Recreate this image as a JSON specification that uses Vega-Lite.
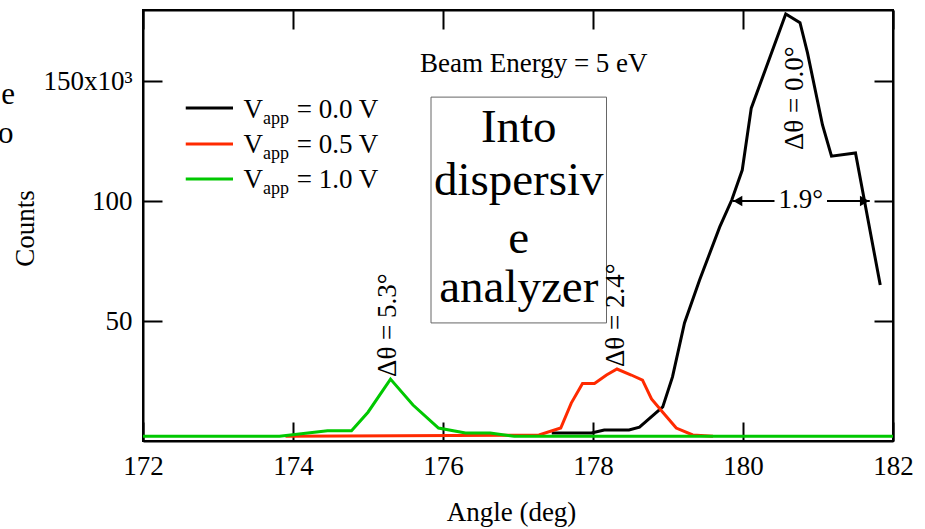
{
  "$schema": "https://vega.github.io/schema/vega-lite/v6.json",
  "width": 750,
  "height": 431,
  "autosize": "none",
  "padding": {"left": 143, "top": 10, "right": 32, "bottom": 88},
  "background": "white",
  "config": {
    "view": {"stroke": "black", "strokeWidth": 2},
    "font": "Liberation Serif",
    "axis": {
      "grid": false,
      "domainColor": "black",
      "domainWidth": 2,
      "tickColor": "black",
      "tickWidth": 2,
      "tickSize": -19,
      "labelFont": "Liberation Serif",
      "labelFontSize": 27,
      "labelColor": "black",
      "labelFlush": false,
      "labelOverlap": false,
      "titleFont": "Liberation Serif",
      "titleFontSize": 27,
      "titleFontWeight": "normal",
      "titleColor": "black"
    },
    "text": {"font": "Liberation Serif", "fontSize": 27, "color": "black"}
  },
  "datasets": {
    "series": [
      {"angle": 177.45, "counts": 3300, "s": "0.0"},
      {"angle": 177.98, "counts": 3300, "s": "0.0"},
      {"angle": 178.15, "counts": 4600, "s": "0.0"},
      {"angle": 178.48, "counts": 4600, "s": "0.0"},
      {"angle": 178.62, "counts": 5800, "s": "0.0"},
      {"angle": 178.93, "counts": 14200, "s": "0.0"},
      {"angle": 179.06, "counts": 26700, "s": "0.0"},
      {"angle": 179.22, "counts": 49200, "s": "0.0"},
      {"angle": 179.42, "counts": 67000, "s": "0.0"},
      {"angle": 179.69, "counts": 89200, "s": "0.0"},
      {"angle": 179.85, "counts": 100400, "s": "0.0"},
      {"angle": 179.99, "counts": 112900, "s": "0.0"},
      {"angle": 180.11, "counts": 138700, "s": "0.0"},
      {"angle": 180.57, "counts": 177900, "s": "0.0"},
      {"angle": 180.76, "counts": 174300, "s": "0.0"},
      {"angle": 180.86, "counts": 161700, "s": "0.0"},
      {"angle": 181.06, "counts": 131700, "s": "0.0"},
      {"angle": 181.18, "counts": 118700, "s": "0.0"},
      {"angle": 181.5, "counts": 120000, "s": "0.0"},
      {"angle": 181.83, "counts": 65000, "s": "0.0"},
      {"angle": 173.9, "counts": 2000, "s": "0.5"},
      {"angle": 177.28, "counts": 2500, "s": "0.5"},
      {"angle": 177.57, "counts": 5400, "s": "0.5"},
      {"angle": 177.71, "counts": 15800, "s": "0.5"},
      {"angle": 177.86, "counts": 24000, "s": "0.5"},
      {"angle": 178.02, "counts": 24000, "s": "0.5"},
      {"angle": 178.18, "counts": 27500, "s": "0.5"},
      {"angle": 178.32, "counts": 30000, "s": "0.5"},
      {"angle": 178.51, "counts": 27500, "s": "0.5"},
      {"angle": 178.66, "counts": 25400, "s": "0.5"},
      {"angle": 178.78, "counts": 17500, "s": "0.5"},
      {"angle": 178.93, "counts": 12000, "s": "0.5"},
      {"angle": 179.11, "counts": 5400, "s": "0.5"},
      {"angle": 179.33, "counts": 2500, "s": "0.5"},
      {"angle": 179.6, "counts": 2000, "s": "0.5"},
      {"angle": 172.0, "counts": 2000, "s": "1.0"},
      {"angle": 173.82, "counts": 2000, "s": "1.0"},
      {"angle": 174.46, "counts": 4300, "s": "1.0"},
      {"angle": 174.78, "counts": 4300, "s": "1.0"},
      {"angle": 175.0, "counts": 12000, "s": "1.0"},
      {"angle": 175.3, "counts": 25800, "s": "1.0"},
      {"angle": 175.6, "counts": 15000, "s": "1.0"},
      {"angle": 175.94, "counts": 5400, "s": "1.0"},
      {"angle": 176.3, "counts": 3300, "s": "1.0"},
      {"angle": 176.63, "counts": 3300, "s": "1.0"},
      {"angle": 176.95, "counts": 2000, "s": "1.0"},
      {"angle": 182.0, "counts": 2000, "s": "1.0"}
    ],
    "legendLines": [
      {"x": 172.57, "x2": 173.2, "y": 138750, "s": "0.0"},
      {"x": 172.57, "x2": 173.2, "y": 123750, "s": "0.5"},
      {"x": 172.57, "x2": 173.2, "y": 109167, "s": "1.0"}
    ],
    "legendText": [
      {"x": 173.34, "y": 134583, "t": "V", "size": 27},
      {"x": 173.6, "y": 132083, "t": "app", "size": 18},
      {"x": 174.05, "y": 134583, "t": "= 0.0 V", "size": 27},
      {"x": 173.34, "y": 120000, "t": "V", "size": 27},
      {"x": 173.6, "y": 117500, "t": "app", "size": 18},
      {"x": 174.05, "y": 120000, "t": "= 0.5 V", "size": 27},
      {"x": 173.34, "y": 105417, "t": "V", "size": 27},
      {"x": 173.6, "y": 102917, "t": "app", "size": 18},
      {"x": 174.05, "y": 105417, "t": "= 1.0 V", "size": 27}
    ],
    "widthLabels": [
      {"x": 180.69, "y": 121250, "t": "Δθ = 0.0°"},
      {"x": 178.31, "y": 30800, "t": "Δθ = 2.4°"},
      {"x": 175.26, "y": 26700, "t": "Δθ = 5.3°"}
    ],
    "boxText": [
      {"x": 177.01, "y": 124600, "t": "Into"},
      {"x": 177.01, "y": 102500, "t": "dispersiv"},
      {"x": 177.01, "y": 78300, "t": "e"},
      {"x": 177.01, "y": 57900, "t": "analyzer"}
    ],
    "notes": [
      {"x": 177.21, "y": 153750, "t": "Beam Energy = 5 eV", "align": "center", "size": 27},
      {"x": 180.77, "y": 97083, "t": "1.9°", "align": "center", "size": 27},
      {"x": 170.2, "y": 140400, "t": "e", "align": "right", "size": 31},
      {"x": 170.17, "y": 124000, "t": "o", "align": "right", "size": 31}
    ],
    "arrowShafts": [
      {"x": 179.86, "x2": 180.42, "y": 100000},
      {"x": 181.12, "x2": 181.69, "y": 100000}
    ],
    "arrowHeads": [
      {"x": 179.93, "y": 100000, "shape": "triangle-left"},
      {"x": 181.62, "y": 100000, "shape": "triangle-right"}
    ],
    "box": [
      {"x": 175.84, "x2": 178.18, "y": 49200, "y2": 143300}
    ]
  },
  "layer": [
    {
      "data": {"name": "box"},
      "mark": {"type": "rect", "fillOpacity": 0, "stroke": "#666666", "strokeWidth": 1},
      "encoding": {
        "x": {"field": "x", "type": "quantitative",
              "scale": {"domain": [172, 182], "nice": false, "zero": false},
              "axis": {"orient": "top", "values": [172, 174, 176, 178, 180, 182], "labels": false, "title": null}},
        "x2": {"field": "x2"},
        "y": {"field": "y", "type": "quantitative",
              "scale": {"domain": [0, 179600], "nice": false, "zero": false},
              "axis": {"orient": "right", "values": [50000, 100000, 150000], "labels": false, "title": null}},
        "y2": {"field": "y2"}
      }
    },
    {
      "data": {"name": "series"},
      "mark": {"type": "line", "strokeWidth": 3, "strokeJoin": "miter"},
      "encoding": {
        "x": {"field": "angle", "type": "quantitative",
              "scale": {"domain": [172, 182], "nice": false, "zero": false},
              "axis": {"orient": "bottom", "values": [172, 174, 176, 178, 180, 182], "format": "d",
                       "labelPadding": 31, "title": "Angle (deg)",
                       "titleX": 368, "titleY": 79, "titleBaseline": "alphabetic", "titleAlign": "center"}},
        "y": {"field": "counts", "type": "quantitative",
              "scale": {"domain": [0, 179600], "nice": false, "zero": false},
              "axis": {"orient": "left", "values": [50000, 100000, 150000],
                       "labelExpr": "datum.value == 150000 ? '150x10³' : format(datum.value / 1000, 'd')",
                       "labelPadding": 30, "title": "Counts",
                       "titleX": -118, "titleY": 218, "titleAngle": 270,
                       "titleAlign": "center", "titleBaseline": "middle"}},
        "color": {"field": "s", "type": "nominal",
                  "scale": {"domain": ["0.0", "0.5", "1.0"], "range": ["#000000", "#ff2a00", "#00c800"]},
                  "legend": null},
        "order": {"field": "angle", "type": "quantitative"}
      }
    },
    {
      "data": {"name": "legendLines"},
      "mark": {"type": "rule", "strokeWidth": 3},
      "encoding": {
        "x": {"field": "x", "type": "quantitative", "scale": {"domain": [172, 182], "nice": false, "zero": false}, "axis": null},
        "x2": {"field": "x2"},
        "y": {"field": "y", "type": "quantitative", "scale": {"domain": [0, 179600], "nice": false, "zero": false}, "axis": null},
        "color": {"field": "s", "type": "nominal",
                  "scale": {"domain": ["0.0", "0.5", "1.0"], "range": ["#000000", "#ff2a00", "#00c800"]},
                  "legend": null}
      }
    },
    {
      "data": {"name": "legendText"},
      "mark": {"type": "text", "align": "left", "baseline": "alphabetic"},
      "encoding": {
        "x": {"field": "x", "type": "quantitative", "scale": {"domain": [172, 182], "nice": false, "zero": false}, "axis": null},
        "y": {"field": "y", "type": "quantitative", "scale": {"domain": [0, 179600], "nice": false, "zero": false}, "axis": null},
        "text": {"field": "t"},
        "size": {"field": "size", "type": "quantitative", "scale": null}
      }
    },
    {
      "data": {"name": "widthLabels"},
      "mark": {"type": "text", "angle": 270, "align": "left", "baseline": "middle"},
      "encoding": {
        "x": {"field": "x", "type": "quantitative", "scale": {"domain": [172, 182], "nice": false, "zero": false}, "axis": null},
        "y": {"field": "y", "type": "quantitative", "scale": {"domain": [0, 179600], "nice": false, "zero": false}, "axis": null},
        "text": {"field": "t"}
      }
    },
    {
      "data": {"name": "boxText"},
      "mark": {"type": "text", "align": "center", "baseline": "alphabetic", "fontSize": 47},
      "encoding": {
        "x": {"field": "x", "type": "quantitative", "scale": {"domain": [172, 182], "nice": false, "zero": false}, "axis": null},
        "y": {"field": "y", "type": "quantitative", "scale": {"domain": [0, 179600], "nice": false, "zero": false}, "axis": null},
        "text": {"field": "t"}
      }
    },
    {
      "data": {"name": "notes"},
      "mark": {"type": "text", "baseline": "alphabetic"},
      "encoding": {
        "x": {"field": "x", "type": "quantitative", "scale": {"domain": [172, 182], "nice": false, "zero": false}, "axis": null},
        "y": {"field": "y", "type": "quantitative", "scale": {"domain": [0, 179600], "nice": false, "zero": false}, "axis": null},
        "text": {"field": "t"},
        "align": {"field": "align", "type": "nominal", "scale": null},
        "size": {"field": "size", "type": "quantitative", "scale": null}
      }
    },
    {
      "data": {"name": "arrowShafts"},
      "mark": {"type": "rule", "strokeWidth": 2, "color": "black"},
      "encoding": {
        "x": {"field": "x", "type": "quantitative", "scale": {"domain": [172, 182], "nice": false, "zero": false}, "axis": null},
        "x2": {"field": "x2"},
        "y": {"field": "y", "type": "quantitative", "scale": {"domain": [0, 179600], "nice": false, "zero": false}, "axis": null}
      }
    },
    {
      "data": {"name": "arrowHeads"},
      "mark": {"type": "point", "filled": true, "color": "black", "opacity": 1, "size": 110},
      "encoding": {
        "x": {"field": "x", "type": "quantitative", "scale": {"domain": [172, 182], "nice": false, "zero": false}, "axis": null},
        "y": {"field": "y", "type": "quantitative", "scale": {"domain": [0, 179600], "nice": false, "zero": false}, "axis": null},
        "shape": {"field": "shape", "type": "nominal", "scale": null}
      }
    }
  ],
  "resolve": {"axis": {"x": "independent", "y": "independent"}}
}
